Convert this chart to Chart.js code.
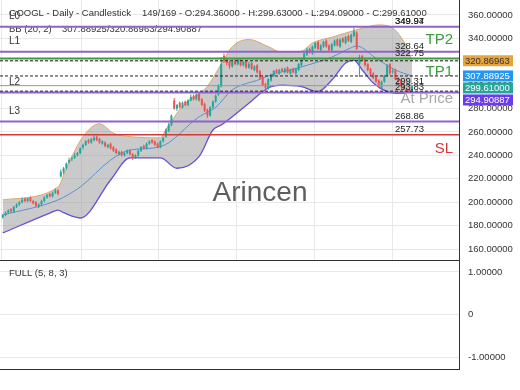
<!DOCTYPE html>
<html>
<head>
<meta charset="utf-8">
<script src="https://cdn.jsdelivr.net/npm/chart.js@4.4.1/dist/chart.umd.min.js"></script>
<style>
html, body { margin: 0; padding: 0; background: #fff; }
#wrap { position: relative; width: 520px; height: 390px; overflow: hidden; background: #fff; }
#c1 { position: absolute; left: 0; top: 0; }
#c2 { position: absolute; left: 0; top: 260px; }
</style>
</head>
<body>
<div id="wrap">
  <canvas id="c1" width="520" height="262"></canvas>
  <canvas id="c2" width="520" height="111"></canvas>
</div>
<script>
// DATA
const symbol = 'GOOGL - Daily - Candlestick';
const barPos = '149/169';
const tickY = [160, 180, 200, 220, 240, 260, 280, 300, 320, 340, 360];
const oscTicks = [-1, 0, 1];
const gridX = [-0.3, 28.3, 56.5, 84.7, 112.9, 141.1];

const opens = [187,189,191,194,192,196,198,200,203,201,
  204,201,200,196,198,201,204,207,205,208,
  210,222,226,229,234,237,238,240,242,247,
  249,253,251,253,256,254,250,251,247,250,
  247,245,241,243,240,242,244,241,238,240,
  244,248,246,250,253,252,250,247,252,256,
  261,266,287,280,285,281,286,283,287,291,
  288,293,288,284,279,274,281,286,292,299,
  325,322,320,316,321,318,322,317,321,315,
  319,313,317,312,307,301,297,304,308,313,
  310,314,311,315,310,314,310,313,317,322,
  326,331,327,332,337,330,333,338,334,330,
  334,339,333,340,336,342,337,342,345,318,
  325,322,318,314,310,307,304,298,303,308,
  318,311,313,306,304,300,297,296,294.36];
const highs = [190,192,194,195,197,199,201,204,204,204,
  205,202,201,199,202,205,207,208,209,212,
  211,228,230,234,238,239,242,243,247,250,
  253,254,255,257,257,255,253,252,250,251,
  248,246,244,244,243,245,245,242,241,245,
  248,249,251,253,254,253,251,253,256,263,
  268,275,289,284,286,286,287,288,292,292,
  293,294,289,285,280,282,287,292,301,324,
  327,323,321,322,322,323,323,321,322,320,
  320,317,318,313,308,302,306,310,313,314,
  314,315,315,316,314,315,315,319,323,328,
  332,332,334,337,338,335,338,339,335,336,
  339,340,340,341,342,343,344,349,346,326,
  326,323,319,315,311,308,305,304,309,318,
  319,314,314,307,305,301,298,297,299.63];
const lows = [186,188,190,191,191,195,197,199,200,200,
  200,198,196,195,197,200,203,204,204,207,
  206,221,224,228,233,235,237,239,241,245,
  248,250,250,252,252,250,249,247,246,245,
  243,241,240,239,239,241,240,236,237,239,
  243,245,245,249,250,248,246,246,251,255,
  260,265,279,278,280,280,282,282,286,287,
  287,286,282,277,272,273,280,285,291,298,
  319,317,314,315,317,317,316,316,314,314,
  313,312,310,305,299,296,296,303,307,310,
  309,311,310,310,309,310,309,312,316,321,
  325,327,326,331,330,329,332,332,329,329,
  333,333,332,336,335,337,336,341,330,307,
  321,316,312,308,305,302,298,296,302,307,
  309,310,304,302,299,296,294,293.5,294.09];
const closes = [189,191,193,192,196,198,200,202,201,203,
  201,199,197,198,201,204,206,205,208,210,
  207,226,229,233,236,238,240,242,246,249,
  252,251,254,255,253,251,252,248,249,246,
  244,242,243,240,242,244,241,238,240,244,
  247,246,250,252,251,249,247,252,255,262,
  266,274,280,283,281,285,283,287,290,288,
  292,287,283,278,274,281,286,291,300,318,
  321,319,316,320,318,322,317,320,315,318,
  314,316,311,306,300,298,305,309,312,311,
  313,312,314,311,313,311,314,318,322,327,
  330,328,333,336,331,334,337,333,330,335,
  338,334,339,337,341,338,343,346,331,324,
  322,317,313,309,306,303,299,303,308,317,
  310,312,305,303,300,297,295,294.4,299.61];

// Bollinger band (20, 2) read at some bars: [bar, value]
const bbUpper = [[0,202],[20,213],[23,229],[29,256],[35,267],[40,259],[46,256],[57,255],[59,262],[65,282],
  [74,299],[79,318],[83,333],[89,339],[96,333],[101,328],[108,329],[112,336],[119,341],[126,346],
  [132,350],[136,351.5],[141,349],[144,341],[146,333],[148,320.86963]];
const bbMiddle = [[0,189],[20,202],[28,213],[39,236],[46,244.6],[57,247.4],[71,273],[77,281],[83,296],
  [93,305],[96,308],[108,315.6],[119,324],[126,332],[128,333.5],[135,323],[142,313],[148,307.88925]];
const bbLower = [[0,173.7],[17,190.7],[20,193.3],[22,191],[28,186.5],[39,219],[46,237.8],[57,237.8],[63,229],
  [71,239],[76,261.7],[79,266],[83,273],[89,284.6],[96,297.6],[101,300],[108,298.7],[114,294.5],
  [119,304.4],[124,319],[127,321.5],[130,313],[134,301.8],[139,294.5],[144,293],[148,294.90887]];
const bbNow = [307.88925, 320.86963, 294.90887];

const levels = [349.94, 328.64, 322.75, 293.83, 268.86, 257.73];
const levelTags = [349.94, 349.97, 328.64, 322.75, 299.31, 293.83, 268.86, 257.73];
const lNames = ['L0', 'L1', 'L2', 'L3'];
const lValues = [349.94, 328.64, 293.83, 268.86];

// STYLE
const FONT = '"Liberation Sans", Arial, sans-serif';
const UP = '#26a69a', DOWN = '#ef5350';
const PURPLE = '#8f63c8', GREEN = '#3f9b3f', RED = '#d23a3a';
const levelColors = [PURPLE, PURPLE, GREEN, PURPLE, PURPLE, RED];
const X_MIN = -1, X_MAX = 165;

const last = closes.length - 1;
const candleColors = closes.map((c, i) => c >= opens[i] ? UP : DOWN);
const wicks = closes.map((c, i) => ({x: i, y: [lows[i], highs[i]]}));
const bodies = closes.map((c, i) => ({x: i, y: [opens[i], c]}));

function band(pts, color, width, extra) {
  return Object.assign({
    type: 'line', data: pts.map(p => ({x: p[0], y: p[1]})),
    borderColor: color, borderWidth: width, pointRadius: 0, fill: false,
    cubicInterpolationMode: 'monotone'
  }, extra);
}
function hLine(v, color, width, dash, order) {
  return {
    type: 'line', data: [{x: X_MIN, y: v}, {x: X_MAX, y: v}],
    borderColor: color, borderWidth: width, borderDash: dash, pointRadius: 0, fill: false, order: order
  };
}

const datasets = [
  band(bbLower, '#6a4fd6', 1.3, {order: 10, fill: 1, backgroundColor: 'rgba(150,150,150,0.5)'}),
  band(bbUpper, '#dba865', 1, {order: 9}),
  band(bbMiddle, '#5a8fd8', 1, {order: 8}),
  {type: 'bar', data: wicks, backgroundColor: candleColors, grouped: false, maxBarThickness: 1, borderWidth: 0, order: 5},
  {type: 'bar', data: bodies, backgroundColor: candleColors, grouped: false, maxBarThickness: 2, minBarLength: 1, borderWidth: 0, order: 4}
];
levels.forEach((v, i) => datasets.push(hLine(v, levelColors[i], i === 5 ? 1.5 : 2, [], 2)));
datasets.push(hLine(closes[last], '#9a9a9a', 1, [], 2));
bbNow.forEach(v => datasets.push(hLine(v, '#222', 1, [3, 2], 1)));

function yAxis(ticksArr, min, max, fmt) {
  return {
    position: 'right', min: min, max: max,
    grid: {color: '#e8e8e8', drawTicks: false},
    border: {display: true, color: '#333', width: 1},
    ticks: {padding: 9, color: '#333', font: {family: FONT, size: 9.5}, callback: fmt},
    afterBuildTicks: s => { s.ticks = ticksArr.map(v => ({value: v})); },
    afterFit: s => { s.width = 61; s.paddingTop = 0; s.paddingBottom = 0; }
  };
}

// texts and price boxes
const mainText = {
  id: 'mainText',
  beforeDatasetsDraw(chart) {
    const ctx = chart.ctx, ys = chart.scales.y;
    ctx.save();
    ctx.textBaseline = 'middle';
    ctx.font = '28px ' + FONT;
    ctx.fillStyle = 'rgba(85,85,85,0.95)';
    ctx.textAlign = 'center';
    ctx.fillText('Arincen', 260, 193);
    ctx.textAlign = 'left';
    ctx.fillStyle = '#333';
    ctx.font = '9.5px ' + FONT;
    ctx.fillText(symbol, 9, 13);
    ctx.fillText(barPos + ' - O:' + opens[last].toFixed(5) + ' - H:' + highs[last].toFixed(5) +
      ' - L:' + lows[last].toFixed(5) + ' - C:' + closes[last].toFixed(5), 142, 13);
    ctx.fillText('BB (20, 2)', 9, 29);
    ctx.fillText(bbNow.map(v => v.toFixed(5)).join('/'), 62, 29);
    ctx.font = '10px ' + FONT;
    lNames.forEach((n, i) => ctx.fillText(n, 9, ys.getPixelForValue(lValues[i]) - 10.5));
    ctx.restore();
  },
  afterDraw(chart) {
    const ctx = chart.ctx, ys = chart.scales.y;
    ctx.save();
    ctx.textBaseline = 'middle';
    ctx.fillStyle = '#222';
    ctx.font = '9.5px ' + FONT;
    levelTags.forEach(v => ctx.fillText(v.toFixed(2), 395, ys.getPixelForValue(v) - 5));
    ctx.font = '15px ' + FONT;
    ctx.textAlign = 'right';
    ctx.fillStyle = GREEN;
    ctx.fillText('TP2', 453, 40);
    ctx.fillText('TP1', 453, 71.5);
    ctx.fillStyle = '#a8a8a8';
    ctx.fillText('At Price', 453, 99);
    ctx.fillStyle = RED;
    ctx.fillText('SL', 453, 149);
    // right axis value boxes, pushed down when they overlap
    const boxes = [
      {v: bbNow[1], bg: '#e6a43c', fg: '#333'},
      {v: bbNow[0], bg: '#2196f3', fg: '#fff'},
      {v: closes[last], bg: '#26a69a', fg: '#fff'},
      {v: bbNow[2], bg: '#6a3de8', fg: '#fff'}
    ];
    let prev = -100;
    ctx.textAlign = 'left';
    ctx.font = '9.5px ' + FONT;
    boxes.forEach(b => {
      let y = ys.getPixelForValue(b.v);
      if (y < prev + 12) y = prev + 12;
      prev = y;
      ctx.fillStyle = b.bg;
      ctx.fillRect(463, y - 5.5, 50, 11);
      ctx.fillStyle = b.fg;
      ctx.fillText(b.v.toFixed(5), 465, y + 0.5);
    });
    ctx.restore();
  }
};

new Chart(document.getElementById('c1'), {
  type: 'line',
  data: {datasets: datasets},
  options: {
    responsive: false, animation: false, events: [],
    layout: {autoPadding: false, padding: {left: 0, right: 0, top: 0, bottom: 2}},
    plugins: {legend: {display: false}, tooltip: {enabled: false}},
    scales: {
      x: {
        type: 'linear', min: X_MIN, max: X_MAX, offset: false,
        grid: {color: '#e8e8e8', drawTicks: false, offset: false},
        border: {display: true, color: '#333', width: 1},
        ticks: {display: false},
        afterBuildTicks: s => { s.ticks = gridX.map(v => ({value: v})); },
        afterFit: s => { s.height = 0; }
      },
      y: yAxis(tickY, 150.6, 372.8, v => Number(v).toFixed(5))
    }
  },
  plugins: [mainText]
});

// lower pane, empty oscillator
const oscText = {
  id: 'oscText',
  afterDraw(chart) {
    const ctx = chart.ctx;
    ctx.save();
    ctx.fillStyle = '#333';
    ctx.font = '9.5px ' + FONT;
    ctx.textBaseline = 'middle';
    ctx.fillText('FULL (5, 8, 3)', 9, 13);
    ctx.restore();
  }
};

new Chart(document.getElementById('c2'), {
  type: 'line',
  data: {datasets: []},
  options: {
    responsive: false, animation: false, events: [],
    layout: {autoPadding: false, padding: {left: 0, right: 0, top: 0, bottom: 2}},
    plugins: {legend: {display: false}, tooltip: {enabled: false}},
    scales: {
      x: {
        type: 'linear', min: X_MIN, max: X_MAX,
        grid: {display: false},
        border: {display: true, color: '#333', width: 1},
        ticks: {display: false},
        afterFit: s => { s.height = 0; }
      },
      y: yAxis(oscTicks, -1.28, 1.28, v => v === 0 ? '0' : Number(v).toFixed(5))
    }
  },
  plugins: [oscText]
});
</script>
</body>
</html>
